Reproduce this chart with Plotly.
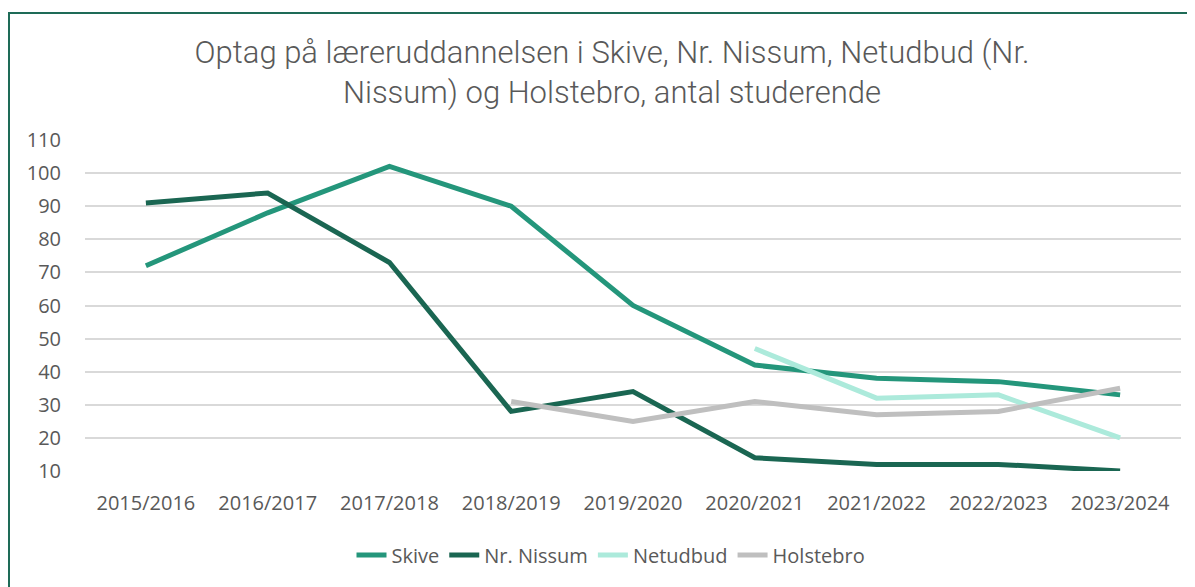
import plotly.graph_objects as go

years = ["2015/2016", "2016/2017", "2017/2018", "2018/2019", "2019/2020",
         "2020/2021", "2021/2022", "2022/2023", "2023/2024"]
skive = [72, 88, 102, 90, 60, 42, 38, 37, 33]
nr_nissum = [91, 94, 73, 28, 34, 14, 12, 12, 10]
netudbud = [None, None, None, None, None, 47, 32, 33, 20]
holstebro = [None, None, None, 31, 25, 31, 27, 28, 35]
y_ticks = [10, 20, 30, 40, 50, 60, 70, 80, 90, 100, 110]

series = [
    ("Skive", skive, "#24967B"),
    ("Nr. Nissum", nr_nissum, "#1A6652"),
    ("Netudbud", netudbud, "#ACEADB"),
    ("Holstebro", holstebro, "#BFBFBF"),
]

fig = go.Figure()
for name, vals, color in series:
    fig.add_trace(go.Scatter(
        x=years, y=vals, name=name, mode="lines",
        line=dict(color=color, width=5), connectgaps=False,
    ))

# the page adds an 8px body margin, so positions are offset by -8
W, H = 1195, 587
L, R, T, B = 77, 22, 132, 124
pw, ph = W - L - R, H - T - B

fig.update_layout(
    width=W, height=H,
    margin=dict(l=L, r=R, t=T, b=B, autoexpand=False),
    paper_bgcolor="white", plot_bgcolor="white",
    font=dict(family="Open Sans", color="#595959", size=20),
    title=dict(
        text="Optag på læreruddannelsen i Skive, Nr. Nissum, Netudbud (Nr.<br>Nissum) og Holstebro, antal studerende",
        x=604 / W, xanchor="center", y=1 - 55 / H, yanchor="middle",
        font=dict(family="Roboto, Open Sans", size=31, color="#595959", weight=300),
    ),
    xaxis=dict(
        showgrid=False, showline=False, zeroline=False, range=[-0.5, 8.5],
        ticks="", tickfont=dict(size=20), ticklabelstandoff=18,
    ),
    yaxis=dict(
        range=[10, 110], tickvals=y_ticks, showgrid=True,
        gridcolor="#D9D9D9", gridwidth=1.5, zeroline=False, showline=False,
        ticks="", tickfont=dict(size=20), ticklabelstandoff=23,
    ),
    legend=dict(
        orientation="h", x=(603 - L) / pw, xanchor="center",
        y=(H - B - 547) / ph, yanchor="middle",
        font=dict(size=20, color="#595959"), itemwidth=30,
    ),
    showlegend=True,
)

fig.add_shape(
    type="rect", xref="paper", yref="paper",
    x0=(1 - L) / pw, x1=(1210 - L) / pw,
    y0=(H - B - 600) / ph, y1=(H - B - 5) / ph,
    line=dict(color="#1E6B57", width=2), fillcolor="rgba(0,0,0,0)",
    layer="below",
)

fig.write_html("out.html")
